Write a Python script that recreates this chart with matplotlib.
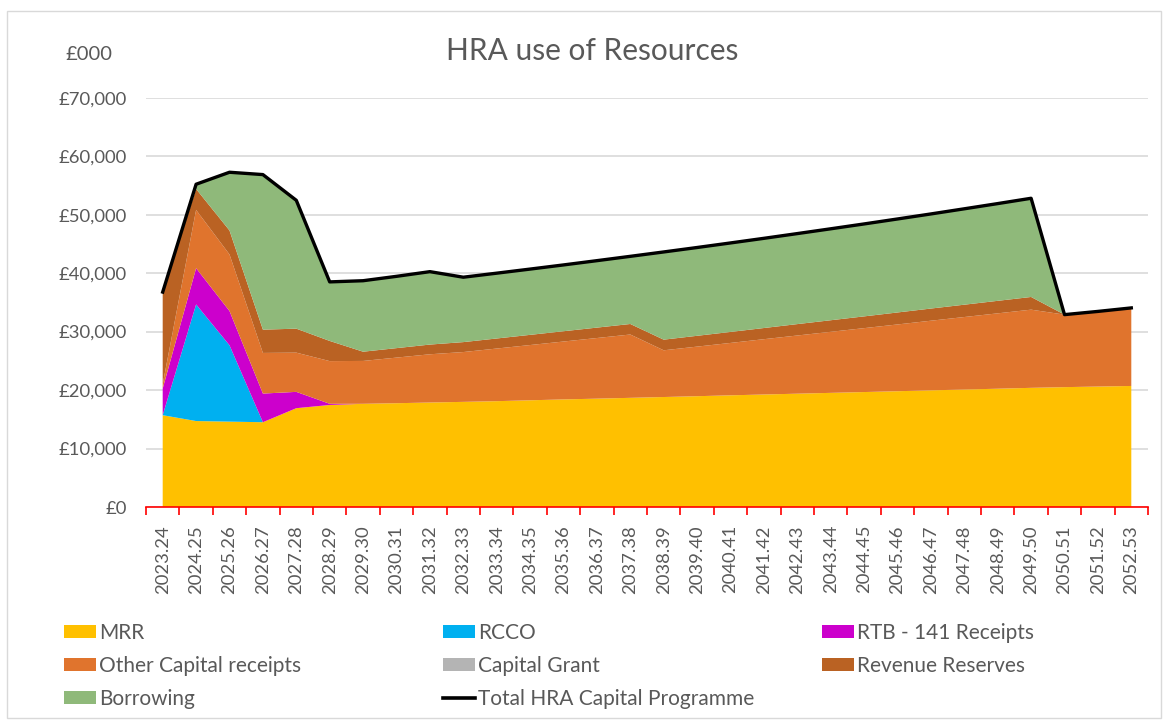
import matplotlib
matplotlib.use("Agg")
import matplotlib.pyplot as plt
from matplotlib.patches import Patch, Rectangle
from matplotlib.lines import Line2D
from matplotlib.ticker import FuncFormatter
import numpy as np

plt.rcParams['font.family'] = ['Lato', 'DejaVu Sans']

years = ["2023.24", "2024.25", "2025.26", "2026.27", "2027.28", "2028.29",
         "2029.30", "2030.31", "2031.32", "2032.33", "2033.34", "2034.35",
         "2035.36", "2036.37", "2037.38", "2038.39", "2039.40", "2040.41",
         "2041.42", "2042.43", "2043.44", "2044.45", "2045.46", "2046.47",
         "2047.48", "2048.49", "2049.50", "2050.51", "2051.52", "2052.53"]

# £000
mrr = [15700, 14700, 14600, 14500, 16900, 17450, 17650, 17750, 17870, 17980,
       18100, 18250, 18400, 18530, 18670, 18810, 18950, 19100, 19240, 19380,
       19520, 19660, 19800, 19950, 20090, 20230, 20380, 20500, 20600, 20700]
rcco = [0, 19950, 13060, 0, 0, 0, 0, 0, 0, 0,
        0, 0, 0, 0, 0, 0, 0, 0, 0, 0,
        0, 0, 0, 0, 0, 0, 0, 0, 0, 0]
rtb = [4560, 6200, 5860, 4900, 2790, 200, 0, 0, 0, 0,
       0, 0, 0, 0, 0, 0, 0, 0, 0, 0,
       0, 0, 0, 0, 0, 0, 0, 0, 0, 0]
other_receipts = [740, 9960, 9670, 6950, 6710, 7300, 7330, 7800, 8250, 8520,
                  9000, 9450, 9900, 10370, 10830, 7990, 8480, 8960, 9460, 9950,
                  10440, 10930, 11420, 11910, 12400, 12890, 13370, 12400, 12850, 13330]
capital_grant = [0] * 30
revenue_reserves = [15760, 3580, 4100, 3980, 4100, 3450, 1580, 1620, 1660, 1700,
                    1720, 1740, 1760, 1780, 1800, 1820, 1850, 1880, 1910, 1950,
                    1980, 2010, 2050, 2080, 2110, 2140, 2170, 0, 0, 0]
borrowing = [0, 810, 9960, 26520, 21950, 10100, 12140, 12280, 12470, 11100,
             11170, 11250, 11340, 11450, 11570, 15000, 15100, 15220, 15340, 15480,
             15640, 15810, 15990, 16180, 16400, 16630, 16880, 0, 0, 0]
total_programme = [36760, 55200, 57250, 56850, 52450, 38500, 38700, 39450, 40250, 39300,
                   39990, 40690, 41400, 42130, 42870, 43620, 44380, 45160, 45950, 46760,
                   47580, 48410, 49260, 50120, 51000, 51890, 52800, 32900, 33450, 34050]

series_names = ["MRR", "RCCO", "RTB - 141 Receipts", "Other Capital receipts",
                "Capital Grant", "Revenue Reserves", "Borrowing"]
colours = ["#FFC000", "#00B0F0", "#CC00CC", "#E0742D", "#B4B4B4", "#BA6223", "#8FB97A"]
grey = "#595959"

fig = plt.figure(figsize=(11.69, 7.22), dpi=100)
ax = fig.add_axes([146 / 1169, 1 - 507 / 722, (1148 - 146) / 1169, (507 - 97.7) / 722])

x = np.arange(len(years))
ax.stackplot(x, mrr, rcco, rtb, other_receipts, capital_grant, revenue_reserves, borrowing,
             colors=colours, linewidth=0, zorder=2)
ax.plot(x, total_programme, color="black", lw=2.4, zorder=3)

ax.set_xlim(-0.5, len(years) - 0.5)
ax.set_ylim(0, 70000)
ax.set_yticks(np.arange(0, 70001, 10000))
ax.yaxis.set_major_formatter(FuncFormatter(lambda v, p: f"£{v:,.0f}"))
ax.yaxis.grid(True, color="#d9d9d9", lw=1.2, zorder=0)
ax.set_axisbelow(True)
ax.tick_params(axis="y", length=0, pad=14, labelsize=13.3, labelcolor=grey)

ax.set_xticks(x)
ax.set_xticklabels(years, rotation=90, va="top", ha="center")
ax.set_xticks(np.arange(-0.5, len(years)), minor=True)
ax.tick_params(axis="x", which="major", length=0, pad=13, labelsize=13.3, labelcolor=grey)
ax.tick_params(axis="x", which="minor", length=6, color="red", width=1.2)

for s in ["left", "top", "right"]:
    ax.spines[s].set_visible(False)
ax.spines["bottom"].set_color("red")
ax.spines["bottom"].set_linewidth(1.2)
ax.spines["bottom"].set_zorder(4)

fig.text(592 / 1169, 1 - 51 / 722, "HRA use of Resources", ha="center", va="center",
         fontsize=21.5, color=grey)
fig.text(89 / 1169, 1 - 55 / 722, "£000", ha="center", va="center", fontsize=14.5, color=grey)

# chart border
fig.patches.append(Rectangle((7 / 1169, 4 / 722), 1154 / 1169, 707 / 722,
                             transform=fig.transFigure, fill=False, edgecolor="#d9d9d9", lw=1))

# legend, laid out row by row in three columns
handles = [Patch(facecolor=c, edgecolor="none") for c in colours]
handles.append(Line2D([0], [0], color="black", lw=2.6))
labels = series_names + ["Total HRA Capital Programme"]
columns = [[0, 3, 6], [1, 4, 7], [2, 5]]
col_x = [64, 443, 822]
for cx, idx in zip(col_x, columns):
    fig.legend([handles[i] for i in idx], [labels[i] for i in idx],
               loc="upper left", bbox_to_anchor=(cx / 1169, 1 - 623 / 722),
               frameon=False, fontsize=15, labelcolor=grey,
               handlelength=1.55, handleheight=0.58, handletextpad=0.12,
               labelspacing=0.62, borderpad=0, borderaxespad=0)

plt.savefig("out.png", dpi=100)
